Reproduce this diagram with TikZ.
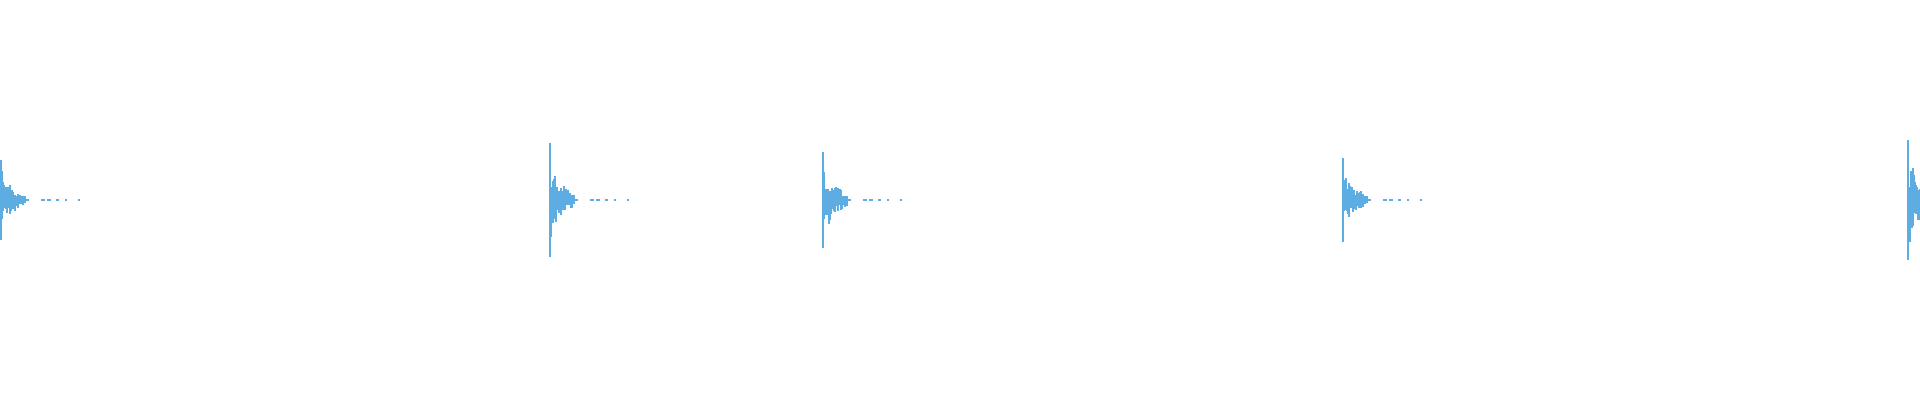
\documentclass[tikz,border=0pt]{standalone}
\usepackage{tikz}
\definecolor{wavecol}{RGB}{93,173,226}
\begin{document}
\begin{tikzpicture}[x=0.01cm,y=0.01cm]
\tikzset{wave/.style={wavecol, line width=0.8pt}}
\tikzset{tail/.style={wavecol, line width=0.6pt}}
\useasboundingbox (0,0) rectangle (1920,400);
\pgfmathsetseed{11}
% bursts: start x / peak amplitude
\foreach \bx/\amp in {1/40, 550/57, 823/48, 1343/42, 1908/60} {
  \draw[wave] (\bx,{200-\amp}) -- (\bx,{200+\amp});
  \foreach \i in {1,...,24} {
    \pgfmathsetmacro{\env}{0.8*\amp*exp(-\i/12)}
    \pgfmathsetmacro{\h}{\env*(0.25+0.75*rnd^2)+2}
    \pgfmathsetmacro{\hb}{\env*(0.25+0.75*rnd^2)+2}
    \draw[wave] ({\bx+\i},{200-\h}) -- ({\bx+\i},{200+\hb});
  }
  \draw[tail] ({\bx+25},200) -- ({\bx+28},200);
  \draw[tail] ({\bx+40},200) -- ({\bx+44},200);
  \draw[tail] ({\bx+46},200) -- ({\bx+50},200);
  \draw[tail] ({\bx+55},200) -- ({\bx+58},200);
  \draw[tail] ({\bx+64},200) -- ({\bx+66},200);
  \draw[tail] ({\bx+77},200) -- ({\bx+79},200);
}
\end{tikzpicture}
\end{document}
